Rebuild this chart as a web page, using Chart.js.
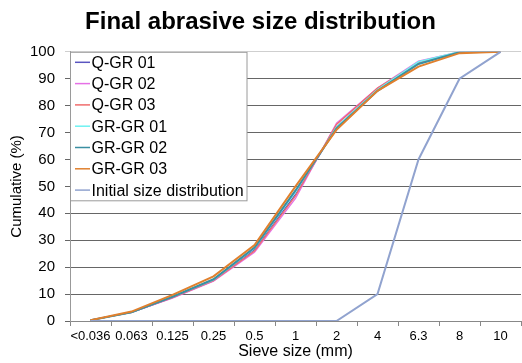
<!DOCTYPE html>
<html>
<head>
<meta charset="utf-8">
<script src="https://cdn.jsdelivr.net/npm/chart.js@4.4.1/dist/chart.umd.min.js"></script>
<style>
  html, body { margin: 0; padding: 0; background: #fff; }
  #wrap { width: 522px; height: 363px; }
</style>
</head>
<body>
<div id="wrap"><canvas id="sieveChart" width="522" height="363"></canvas></div>
<script>
  // Datos
  const sieveSizes = ['<0.036', '0.063', '0.125', '0.25', '0.5', '1', '2', '4', '6.3', '8', '10'];
  const qgr01   = [0.3, 3.2, 8.7, 15.0, 26.5, 47.0, 72.0, 86.0, 96.0, 99.8, 100];
  const qgr02   = [0.3, 3.2, 8.5, 14.8, 25.5, 45.5, 73.5, 86.5, 96.5, 100, 100];
  const qgr03   = [0.3, 3.2, 8.7, 15.0, 26.0, 46.5, 73.0, 86.5, 96.0, 99.8, 100];
  const grgr01  = [0.3, 3.2, 9.0, 15.3, 27.0, 48.0, 72.0, 86.0, 96.3, 100, 100];
  const grgr02  = [0.3, 3.2, 9.0, 15.5, 27.3, 48.5, 71.5, 85.5, 95.5, 99.8, 100];
  const grgr03  = [0.3, 3.5, 9.7, 16.6, 28.2, 50.0, 71.0, 85.5, 94.5, 99.5, 100];
  const initial = [0, 0, 0, 0, 0, 0, 0, 10, 60, 90, 100];

  const seriesNames = ['Q-GR 01', 'Q-GR 02', 'Q-GR 03', 'GR-GR 01', 'GR-GR 02', 'GR-GR 03', 'Initial size distribution'];
  const seriesData = [qgr01, qgr02, qgr03, grgr01, grgr02, grgr03, initial];
  const seriesColors = ['#5a55c0', '#e670e6', '#f06c6c', '#6ef2f2', '#3a8fa2', '#e0802e', '#91a3cf'];
  const seriesWidths = [1.3, 1.3, 1.3, 1.5, 2, 2, 2];

  const FONT = "'Liberation Sans', Arial, sans-serif";

  // Leyenda dentro del área del gráfico
  const boxLegend = {
    id: 'boxLegend',
    afterDraw(chart) {
      const c = chart.ctx;
      const top = chart.chartArea.top;
      c.save();
      c.fillStyle = '#fff';
      c.fillRect(70.5, top, 176.5, 149);
      c.strokeStyle = '#9a9a9a';
      c.lineWidth = 1;
      c.strokeRect(70.5, top + 0.5, 176.5, 148.5);
      c.font = '16px ' + FONT;
      c.textBaseline = 'middle';
      chart.data.datasets.forEach((ds, i) => {
        const y = top + 10.5 + i * 21.3;
        c.strokeStyle = ds.borderColor;
        c.lineWidth = 1.5;
        c.beginPath();
        c.moveTo(75, y);
        c.lineTo(90, y);
        c.stroke();
        c.fillStyle = '#000';
        c.fillText(ds.label, 91.5, y + 1);
      });
      c.restore();
    }
  };

  const ctx = document.getElementById('sieveChart').getContext('2d');
  const sieveChart = new Chart(ctx, {
    type: 'line',
    data: {
      labels: sieveSizes,
      datasets: seriesNames.map((name, i) => ({
        label: name,
        data: seriesData[i],
        borderColor: seriesColors[i],
        backgroundColor: seriesColors[i],
        borderWidth: seriesWidths[i],
        pointRadius: 0,
        tension: 0,
        order: seriesNames.length - i
      }))
    },
    options: {
      responsive: false,
      animation: false,
      layout: { padding: { left: 0, right: 1, top: 0, bottom: 0 } },
      plugins: {
        legend: { display: false },
        tooltip: { enabled: false },
        title: {
          display: true,
          text: 'Final abrasive size distribution',
          color: '#000',
          font: { family: FONT, size: 24, weight: 'bold' },
          padding: { top: 8, bottom: 15 }
        }
      },
      scales: {
        x: {
          offset: true,
          grid: { offset: true, drawOnChartArea: false, tickLength: 5, color: '#888' },
          border: { color: '#888' },
          ticks: { color: '#000', font: { family: FONT, size: 13 }, maxRotation: 0, autoSkip: false, padding: 3 },
          title: { display: true, text: 'Sieve size (mm)', color: '#000', font: { family: FONT, size: 16 }, padding: { top: 0, bottom: 2 } },
          afterFit(scale) { scale.height = 42; }
        },
        y: {
          min: 0,
          max: 100,
          ticks: { stepSize: 10, color: '#000', font: { family: FONT, size: 15 }, padding: 10 },
          grid: {
            tickLength: 5,
            color: (c) => (c.tick && c.tick.value === 100 ? '#cfcfcf' : '#666'),
            lineWidth: 1
          },
          border: { color: '#999' },
          title: { display: true, text: 'Cumulative (%)', color: '#000', font: { family: FONT, size: 15 }, padding: { top: 8, bottom: 0 } },
          afterFit(scale) { scale.width = 70; }
        }
      }
    },
    plugins: [boxLegend]
  });
</script>
</body>
</html>
